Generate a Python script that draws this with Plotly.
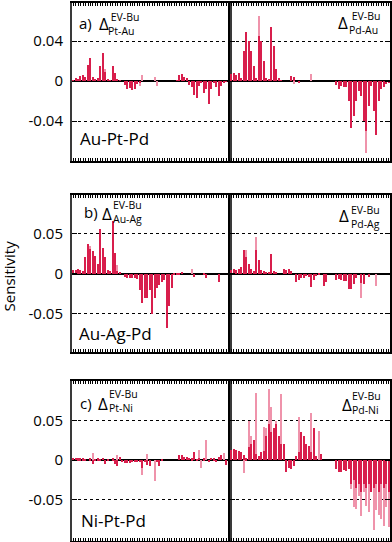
import plotly.graph_objects as go
from plotly.subplots import make_subplots

# bar index along each half-panel
idx = list(range(64))

# a) Au-Pt-Pd
pt_au_main = [0.001, 0.003, 0.002, 0.005, 0.006, 0.004, 0.016, 0.023,
              0.004, 0.002, 0.003, 0.015, 0.028, 0.009, 0.002, 0.001,
              0.015, 0.008, 0.002, 0.001, 0.000, -0.004, -0.008, -0.007,
              -0.009, -0.008, -0.003, -0.002, 0.000, 0.000, 0.000, 0.000,
              0.000, 0.000, 0.000, 0.000, 0.000, 0.000, 0.000, 0.000,
              0.000, 0.000, 0.001, 0.006, 0.007, 0.004, 0.003, -0.004,
              -0.006, -0.014, -0.017, -0.005, -0.002, -0.012, -0.008, -0.023,
              -0.008, -0.002, -0.006, -0.015, -0.005, -0.002, -0.001, -0.001]
pt_au_alt = [0, 0, 0, 0, 0, 0, 0, 0,
             0, 0, 0, 0, 0, 0.012, 0, 0,
             0, 0, 0, 0, 0, 0, 0, 0,
             0, 0, 0, -0.005, 0.006, 0, 0, 0,
             0, 0.004, -0.005, 0, 0, 0, 0, 0,
             0, 0, 0, 0, 0, 0, 0, 0,
             0, 0, 0, 0, 0, 0, 0, 0,
             0, 0, 0, 0, 0, 0, 0, 0]
pd_au_main = [0.007, 0.008, 0.006, 0.008, 0.003, 0.030, 0.049, 0.040,
              0.030, 0.015, 0.003, 0.045, 0.040, 0.020, 0.003, 0.002,
              0.054, 0.035, 0.012, 0.003, 0.001, 0.000, 0.000, 0.000,
              0.005, 0.004, 0.000, -0.002, 0.000, 0.000, 0.000, 0.000,
              0.000, 0.000, 0.000, 0.000, 0.000, 0.000, 0.000, 0.000,
              0.000, 0.000, -0.004, -0.008, -0.005, -0.006, -0.006, -0.020,
              -0.047, -0.035, -0.020, -0.010, -0.015, -0.040, -0.050, -0.025,
              -0.005, -0.030, -0.054, -0.020, -0.008, -0.006, -0.003, -0.002]
pd_au_alt = [0, 0, 0, 0, 0, 0, 0, 0,
             0, 0, 0, 0.065, 0, 0, 0, 0,
             0, 0, 0, 0, 0, 0, 0, 0,
             0, -0.003, 0, 0, 0, 0, 0, 0,
             0.007, 0, 0, 0, 0, 0, 0, 0,
             0, 0, 0, 0, 0, 0, 0, 0,
             0, 0, 0, 0, 0, 0, -0.072, 0,
             0, 0, 0, 0, 0, 0, 0, 0]

# b) Au-Ag-Pd
au_ag_main = [0.004, 0.004, 0.005, 0.004, 0.003, 0.020, 0.037, 0.030,
              0.028, 0.022, 0.012, 0.056, 0.032, 0.020, 0.004, 0.003,
              0.066, 0.025, 0.003, 0.002, 0.000, -0.004, -0.005, -0.006,
              -0.005, -0.006, -0.007, -0.020, -0.037, -0.030, -0.030, -0.020,
              -0.051, -0.030, -0.018, -0.014, -0.010, -0.008, -0.068, -0.040,
              -0.018, -0.002, -0.002, -0.001, 0.001, 0.000, 0.000, 0.000,
              0.000, -0.004, 0.000, 0.000, 0.000, -0.002, -0.006, 0.000,
              0.000, 0.000, 0.000, -0.010, 0.000, 0.000, 0.000, 0.000]
au_ag_alt = [0, 0, 0, 0, 0, 0, 0, 0.034,
             0, 0, 0, 0, 0, 0, 0, 0,
             0, 0, 0.010, 0, 0, 0, 0, 0,
             0, 0, 0, 0, 0, 0, 0, 0,
             0, 0, 0, 0, 0, 0, 0, 0,
             0, 0, 0, 0, 0, 0, 0, 0,
             0.006, 0, 0, 0, 0, 0, 0, 0,
             0, 0, 0, 0, 0, 0, 0, 0]
pd_ag_main = [0.004, 0.005, 0.004, 0.006, 0.008, 0.029, 0.020, 0.012,
              0.005, 0.003, 0.029, 0.017, 0.004, 0.003, 0.002, 0.001,
              0.024, 0.003, 0.002, 0.000, 0.000, 0.005, 0.004, 0.005,
              0.003, 0.000, -0.010, -0.008, -0.006, -0.006, -0.003, -0.004,
              -0.017, -0.008, -0.003, -0.002, 0.000, -0.015, -0.010, 0.000,
              0.000, 0.000, -0.008, -0.007, -0.008, -0.009, -0.009, -0.019,
              -0.019, -0.013, -0.006, 0.000, -0.012, -0.013, 0.000, -0.004,
              0.000, 0.000, 0.000, 0.000, 0.000, 0.000, 0.000, 0.000]
pd_ag_alt = [0, 0, 0, 0, 0, 0, 0.029, 0,
             0, 0, 0.045, 0, 0, 0, 0, 0,
             0, 0, 0, 0, 0, 0, 0, 0,
             0, 0, 0, 0, 0, 0, 0, 0,
             0, 0, 0, 0, 0, 0, 0, 0,
             0, 0, 0, 0, 0, 0, 0, 0,
             0, 0, 0, 0, -0.030, 0, 0, 0,
             0, 0, -0.015, 0, 0, 0, 0, 0]

# c) Ni-Pt-Pd
pt_ni_main = [0.002, 0.002, 0.002, 0.002, 0.002, 0.001, 0.000, 0.002,
              -0.005, 0.001, 0.002, 0.001, 0.003, -0.005, 0.001, 0.000,
              0.002, -0.005, -0.008, 0.004, -0.003, -0.004, -0.004, -0.004,
              -0.003, -0.003, -0.002, -0.002, -0.010, -0.002, -0.006, -0.008,
              0.000, 0.000, -0.002, -0.007, 0.001, 0.000, 0.000, 0.000,
              0.000, 0.000, 0.000, 0.006, 0.006, 0.004, 0.004, 0.003,
              0.002, 0.010, 0.001, 0.003, 0.000, 0.002, 0.000, -0.002,
              0.003, 0.002, -0.002, 0.004, 0.006, 0.000, -0.006, 0.003]
pt_ni_alt = [0, 0, 0, 0, 0, 0, 0, 0,
             0.009, 0, 0, 0, 0, 0, 0, 0,
             0, 0, 0.006, 0, 0, 0, 0, 0,
             0, 0, 0, 0, -0.019, 0, 0.0075, 0,
             0, -0.026, 0, 0, 0, 0, 0, 0,
             0, 0, 0, 0, 0, 0, 0, 0,
             0, 0, 0, 0.013, -0.010, 0, 0.025, 0,
             0, 0, 0, 0, 0, 0.009, 0, 0]
pd_ni_main = [0.013, 0.014, 0.013, 0.012, 0.010, 0.006, 0.002, 0.017,
              0.020, 0.025, 0.008, 0.005, 0.010, 0.012, 0.030, 0.046,
              0.035, 0.040, 0.045, 0.030, 0.020, 0.020, -0.015, -0.010,
              -0.012, -0.008, 0.005, 0.010, 0.035, 0.030, 0.020, 0.018,
              0.010, 0.040, 0.005, 0.000, 0.008, 0.000, 0.000, 0.000,
              0.000, 0.000, -0.012, -0.015, -0.015, -0.013, -0.014, -0.012,
              -0.030, -0.025, -0.035, -0.030, -0.040, -0.030, -0.035, -0.030,
              -0.040, -0.035, -0.030, -0.040, -0.030, -0.035, -0.030, -0.040]
pd_ni_alt = [0, 0, 0, 0, 0, -0.017, 0, 0.050,
             0.030, 0, 0.085, 0, 0, 0.042, 0.040, 0.090,
             0.067, 0, 0.050, 0, 0.083, 0, 0, 0,
             0, 0, 0, 0.054, 0, 0, 0, 0,
             0.059, 0, 0, 0.037, 0, 0, 0, 0,
             0, 0, 0, 0, 0, 0, 0, 0,
             -0.037, -0.060, -0.062, -0.046, -0.071, -0.040, -0.058, -0.066,
             0, -0.088, -0.063, -0.069, -0.075, -0.083, -0.060, -0.085]

row_tickvals = [[-0.04, 0, 0.04], [-0.05, 0, 0.05], [-0.05, 0, 0.05]]
row_ticktext = [["-0.04", "0", "0.04"], ["-0.05", "0", "0.05"], ["-0.05", "0", "0.05"]]
row_ranges = [[-0.080, 0.078], [-0.098, 0.098], [-0.1025, 0.100]]

series = [
    [(pt_au_main, pt_au_alt), (pd_au_main, pd_au_alt)],
    [(au_ag_main, au_ag_alt), (pd_ag_main, pd_ag_alt)],
    [(pt_ni_main, pt_ni_alt), (pd_ni_main, pd_ni_alt)],
]

DARK = "#d81e4c"
LIGHT = "#ef93ab"
W, H = 392, 542
L = 72

fig = make_subplots(rows=3, cols=2, horizontal_spacing=0, vertical_spacing=0.05)

for r in range(3):
    for c in range(2):
        main, alt = series[r][c]
        fig.add_trace(go.Bar(x=idx, y=alt, marker_color=LIGHT, marker_line_width=0,
                             width=0.55, showlegend=False), row=r + 1, col=c + 1)
        fig.add_trace(go.Bar(x=idx, y=main, marker_color=DARK, marker_line_width=0,
                             width=0.55, showlegend=False), row=r + 1, col=c + 1)

# panel boxes in pixels (top, bottom)
rows_px = [(3, 161), (195, 352), (381, 541)]
split = (231 - L) / (W - L)

for r in range(3):
    top, bot = rows_px[r]
    ydom = [1 - bot / H, 1 - top / H]
    for c in range(2):
        n = r * 2 + c + 1
        sfx = "" if n == 1 else str(n)
        xdom = [0, split] if c == 0 else [split, 1]
        fig.layout["xaxis" + sfx].update(
            domain=xdom, range=[-0.5, 63.5], showticklabels=False,
            ticks="inside", ticklen=3, tickwidth=1, tickcolor="black",
            dtick=1, tick0=0, showline=True, linecolor="black", linewidth=1.5,
            mirror="ticks", showgrid=False, zeroline=False)
        fig.layout["yaxis" + sfx].update(
            domain=ydom, range=row_ranges[r],
            tickvals=row_tickvals[r], ticktext=row_ticktext[r],
            showticklabels=(c == 0),
            ticks="inside", ticklen=5, tickwidth=1.2, tickcolor="black",
            showline=True, linecolor="#3a3a3a" if c == 0 else "black",
            linewidth=2 if c == 0 else 1.5,
            mirror=True if c == 0 else "ticks",
            showgrid=True, gridcolor="black", gridwidth=1, griddash="dot",
            zeroline=True, zerolinecolor="black", zerolinewidth=1.5,
            ticklabelstandoff=4,
            tickfont=dict(size=15, color="black"))


def px(x, y):
    return (x - L) / (W - L), 1 - y / H


# (text, left x px, centre y px, font size)
labels = [
    ("a)", 77, 23, 15), ("Δ", 97, 24, 17), ("&nbsp;EV-Bu<br>Pt-Au", 106, 24, 10.5),
    ("Δ", 338, 23, 17), ("&nbsp;EV-Bu<br>Pd-Au", 349, 23, 10.5),
    ("Au-Pt-Pd", 78, 138, 17),
    ("b)", 82, 212, 15), ("Δ", 100, 213, 17), ("EV-Bu<br>Au-Ag", 111, 212, 10.5),
    ("Δ", 339, 216, 17), ("EV-Bu<br>Pd-Ag", 351, 217, 10.5),
    ("Au-Ag-Pd", 77, 333, 17),
    ("c)", 78, 403, 15), ("Δ", 96, 403, 17), ("EV-Bu<br>Pt-Ni", 107, 401, 10.5),
    ("Δ", 342, 404, 17), ("EV-Bu<br>Pd-Ni", 352, 403, 10.5),
    ("Ni-Pt-Pd", 79, 520, 17),
]
for text, x, y, size in labels:
    ax, ay = px(x, y)
    fig.add_annotation(x=ax, y=ay, xref="paper", yref="paper", text=text,
                       showarrow=False, xanchor="left", yanchor="middle", align="left",
                       font=dict(size=size, color="black"))

sx, sy = px(9, 276)
fig.add_annotation(x=sx, y=sy, xref="paper", yref="paper", text="Sensitivity",
                   showarrow=False, textangle=-90, xanchor="center", yanchor="middle",
                   font=dict(size=15, color="black"))

fig.update_layout(
    width=W, height=H, barmode="overlay", bargap=0,
    margin=dict(l=L, r=0, t=0, b=0),
    plot_bgcolor="white", paper_bgcolor="white",
    font=dict(family="Open Sans", color="black"),
)

# page margin would otherwise shift the figure by 8px
fig.write_html("out.html", config={"displayModeBar": False},
               post_script="document.body.style.margin='0';document.body.style.overflow='hidden';")
